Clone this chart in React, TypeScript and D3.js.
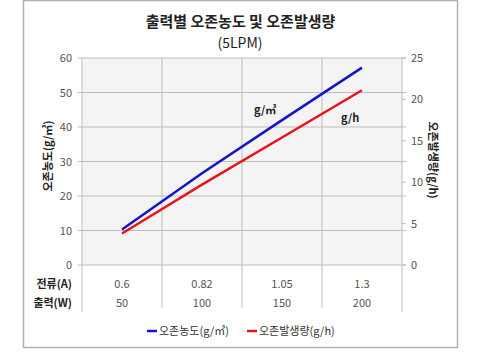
import React from "react";
import * as d3 from "d3";

const currents = ["0.6", "0.82", "1.05", "1.3"];
const powers = ["50", "100", "150", "200"];
const concentration = [10.3, 26.6, 42.0, 57.2];
const generation = [3.8, 9.7, 15.4, 21.1];
const leftTicks = [0, 10, 20, 30, 40, 50, 60];
const rightTicks = [0, 5, 10, 15, 20, 25];

const W = 489;
const H = 356;
const FONT = "'Noto Sans CJK KR', 'Noto Sans', sans-serif";

export default function App() {
  const plotL = 82, plotR = 402, plotT = 58, plotB = 265;
  const x = d3.scaleBand<string>().domain(powers).range([plotL, plotR]);
  const yL = d3.scaleLinear().domain([0, 60]).range([plotB, plotT]);
  const yR = d3.scaleLinear().domain([0, 25]).range([plotB, plotT]);
  const cx = (i: number) => (x(powers[i]) as number) + x.bandwidth() / 2;
  const lineL = d3.line<number>().x((_, i) => cx(i)).y((d) => yL(d));
  const lineR = d3.line<number>().x((_, i) => cx(i)).y((d) => yR(d));
  const boundaries = [plotL, ...powers.slice(1).map((p) => x(p) as number), plotR];
  const blue = "#1414c8";
  const red = "#e8141c";
  const grid = "#bdbdbd";
  const tickColor = "#555";

  return (
    <svg width={W} height={H} style={{ position: "absolute", left: 0, top: 0, background: "#fff" }} fontFamily={FONT}>
      <rect x={23.5} y={0.5} width={434} height={347} fill="#fff" stroke="#b0b0b0" strokeWidth={1.5} />
      <text x={240.5} y={27} textAnchor="middle" fontSize={15} fontWeight="bold" fill="#222">출력별 오존농도 및 오존발생량</text>
      <text x={240} y={48} textAnchor="middle" fontSize={14} fill="#222">(5LPM)</text>

      <rect x={plotL} y={plotT} width={plotR - plotL} height={plotB - plotT} fill="#f4f4f4" />
      {leftTicks.map((t) => (
        <g key={"l" + t}>
          <line x1={plotL - 4} x2={plotR + 4} y1={yL(t)} y2={yL(t)} stroke={grid} strokeWidth={1} />
          <text x={72} y={yL(t) + 4} textAnchor="end" fontSize={11} fill={tickColor}>{t}</text>
        </g>
      ))}
      {rightTicks.map((t) => (
        <g key={"r" + t}>
          <line x1={plotR} x2={plotR + 4} y1={yR(t)} y2={yR(t)} stroke={grid} strokeWidth={1} />
          <text x={411} y={yR(t) + 4} textAnchor="start" fontSize={11} fill={tickColor}>{t}</text>
        </g>
      ))}
      {boundaries.map((b, i) => (
        <line key={"v" + i} x1={b} x2={b} y1={plotT} y2={i === 0 || i === boundaries.length - 1 ? 312 : 308} stroke={grid} strokeWidth={1} />
      ))}

      <path d={lineR(generation) || ""} fill="none" stroke={red} strokeWidth={2.5} />
      <path d={lineL(concentration) || ""} fill="none" stroke={blue} strokeWidth={2.5} />

      <text x={254} y={114} fontSize={11} fontWeight="bold" fill="#222">g/㎥</text>
      <text x={341} y={122} fontSize={11} fontWeight="bold" fill="#222">g/h</text>

      <text transform="translate(52,156) rotate(-90)" textAnchor="middle" fontSize={11} fontWeight="bold" fill="#222">오존농도(g/㎥)</text>
      <text transform="translate(429,160) rotate(90)" textAnchor="middle" fontSize={11} fontWeight="bold" fill="#222">오존발생량(g/h)</text>

      <text x={72} y={288} textAnchor="end" fontSize={11} fontWeight="bold" fill="#222">전류(A)</text>
      <text x={72} y={307} textAnchor="end" fontSize={11} fontWeight="bold" fill="#222">출력(W)</text>
      {powers.map((p, i) => (
        <g key={"c" + p}>
          <text x={cx(i)} y={288} textAnchor="middle" fontSize={11} fill={tickColor}>{currents[i]}</text>
          <text x={cx(i)} y={307} textAnchor="middle" fontSize={11} fill={tickColor}>{p}</text>
        </g>
      ))}

      <line x1={147} x2={157} y1={331} y2={331} stroke={blue} strokeWidth={2.5} />
      <text x={159} y={335} fontSize={11} fill="#333">오존농도(g/㎥)</text>
      <line x1={247} x2={257} y1={331} y2={331} stroke={red} strokeWidth={2.5} />
      <text x={259} y={335} fontSize={11} fill="#333">오존발생량(g/h)</text>
    </svg>
  );
}
